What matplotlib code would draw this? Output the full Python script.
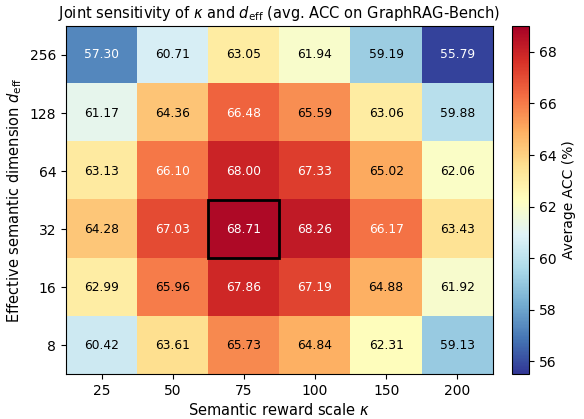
import numpy as np
import matplotlib
matplotlib.use("Agg")
import matplotlib.pyplot as plt
from matplotlib.patches import Rectangle

kappa = ["25", "50", "75", "100", "150", "200"]
d_eff = ["256", "128", "64", "32", "16", "8"]
acc = np.array([
    [57.30, 60.71, 63.05, 61.94, 59.19, 55.79],
    [61.17, 64.36, 66.48, 65.59, 63.06, 59.88],
    [63.13, 66.10, 68.00, 67.33, 65.02, 62.06],
    [64.28, 67.03, 68.71, 68.26, 66.17, 63.43],
    [62.99, 65.96, 67.86, 67.19, 64.88, 61.92],
    [60.42, 63.61, 65.73, 64.84, 62.31, 59.13],
])

fig = plt.figure(figsize=(5.84, 4.19), dpi=100)
ax = fig.add_axes([0.113, 0.107, 0.731, 0.831])
cax = fig.add_axes([0.877, 0.107, 0.029, 0.831])

vmin, vmax = acc.min() - 0.3, acc.max() + 0.3
im = ax.imshow(acc, cmap="RdYlBu_r", vmin=vmin, vmax=vmax, aspect="auto")

ax.set_xticks(range(len(kappa)))
ax.set_xticklabels(kappa, fontsize=10)
ax.set_yticks(range(len(d_eff)))
ax.set_yticklabels(d_eff, fontsize=10)
ax.set_xlabel(r"Semantic reward scale $\kappa$", fontsize=10.5, labelpad=3)
ax.set_ylabel(r"Effective semantic dimension $d_{\mathrm{eff}}$", fontsize=10.5)
ax.set_title(r"Joint sensitivity of $\kappa$ and $d_{\mathrm{eff}}$ (avg. ACC on GraphRAG-Bench)", fontsize=10.5)

for i in range(acc.shape[0]):
    for j in range(acc.shape[1]):
        v = acc[i, j]
        c = "white" if (v > 66.0 or v < 58.0) else "black"
        ax.text(j, i, f"{v:.2f}", ha="center", va="center", color=c, fontsize=8.8)

bi, bj = np.unravel_index(np.argmax(acc), acc.shape)
ax.add_patch(Rectangle((bj - 0.5, bi - 0.5), 1, 1, fill=False, edgecolor="black", linewidth=2))

cb = fig.colorbar(im, cax=cax)
cb.set_label("Average ACC (%)", fontsize=10)
cb.set_ticks([56, 58, 60, 62, 64, 66, 68])
cb.ax.tick_params(labelsize=10)

fig.savefig("out.png", dpi=100)
